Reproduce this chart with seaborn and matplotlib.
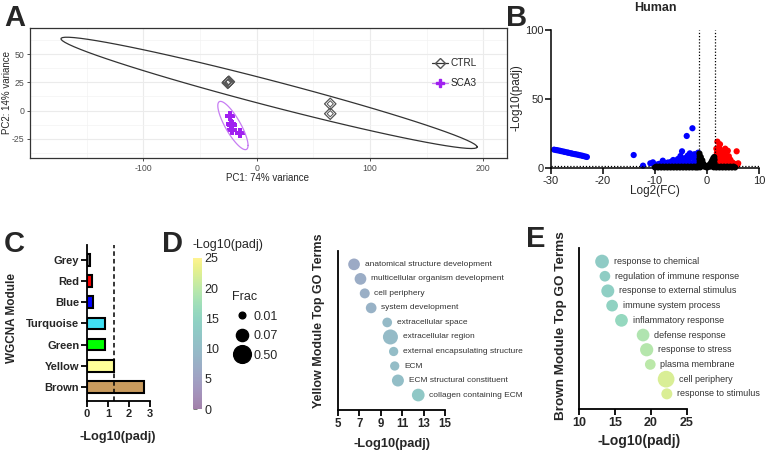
import numpy as np
import pandas as pd
import matplotlib
matplotlib.use('Agg')
import matplotlib.pyplot as plt
import seaborn as sns
from matplotlib.lines import Line2D
from matplotlib.colors import ListedColormap, Normalize
from matplotlib.cm import ScalarMappable

# ---------------- data ----------------
# A: PCA scores (several samples sit on top of each other)
ctrl_pc1 = [-25.5, -24.5, -25.0, 65.0, 65.0]
ctrl_pc2 = [24.5, 25.5, 25.0, 5.9, -2.8]
sca3_pc1 = [-23.9, -22.4, -22.0, -21.5, -14.7]
sca3_pc2 = [-5.0, -11.8, -12.4, -17.1, -20.0]

# B: volcano, (log2FC, -log10 padj)
down_genes = [(-29.4, 13.3), (-29.0, 13.0), (-28.7, 12.8), (-28.3, 12.5), (-28.0, 12.2),
              (-27.6, 11.9), (-27.3, 11.6), (-26.9, 11.3), (-26.6, 11.0), (-26.2, 10.7),
              (-25.9, 10.4), (-25.5, 10.1), (-25.2, 9.9), (-24.8, 9.6), (-24.5, 9.3),
              (-24.1, 9.0), (-23.8, 8.7), (-23.4, 8.3), (-23.1, 8.0),
              (-14.1, 9.4), (-12.3, 1.7), (-10.9, 3.4), (-10.4, 4.1), (-10.0, 2.0),
              (-9.6, 2.5), (-9.2, 3.0), (-8.8, 2.2), (-8.5, 5.3), (-8.2, 3.5),
              (-7.8, 2.8), (-7.5, 4.0), (-7.2, 2.5), (-6.9, 4.5), (-6.5, 5.8),
              (-6.2, 3.5), (-5.9, 5.0), (-5.6, 6.5), (-5.3, 4.2), (-5.1, 8.7),
              (-4.8, 12.1), (-4.6, 6.8), (-4.3, 5.5), (-4.0, 7.5), (-3.9, 23.2),
              (-3.7, 9.0), (-3.5, 6.0), (-3.3, 10.6), (-3.1, 7.8), (-2.8, 28.8),
              (-2.9, 9.5), (-2.6, 8.0), (-2.4, 10.0), (-2.2, 6.5), (-2.0, 9.0),
              (-1.8, 10.2), (-1.7, 11.1), (-1.6, 7.5), (-2.5, 4.0), (-3.0, 3.0),
              (-4.0, 3.2), (-5.0, 2.5), (-6.0, 2.0), (-7.0, 1.8), (-2.0, 3.5),
              (-1.7, 4.8), (-3.6, 4.5), (-4.6, 3.8), (-2.3, 2.5), (-1.9, 2.0)]
up_genes = [(2.0, 19.1), (2.5, 17.2), (5.7, 12.1), (6.0, 3.4), (1.6, 2.0), (1.7, 4.0),
            (1.7, 6.5), (1.8, 8.5), (1.9, 11.0), (2.0, 5.0), (2.1, 13.0), (2.2, 7.5),
            (2.3, 3.0), (2.4, 10.0), (2.6, 12.5), (2.7, 5.5), (2.8, 8.0), (2.9, 2.5),
            (3.0, 11.5), (3.1, 6.5), (3.2, 9.5), (3.3, 13.0), (3.4, 4.0), (3.6, 7.5),
            (3.7, 10.5), (3.8, 2.5), (4.0, 5.5), (4.2, 8.5), (4.3, 3.0), (4.5, 6.0),
            (4.7, 2.2), (4.9, 4.0), (5.1, 1.8), (5.3, 3.0), (5.5, 2.2), (4.0, 12.5),
            (3.5, 14.0), (2.3, 15.0), (1.8, 14.0), (5.8, 2.0)]
ns_genes = [(-10.0, 0.4), (-9.4, 0.4), (-8.8, 0.4), (-8.2, 0.4), (-7.6, 0.4), (-7.0, 0.4),
            (-6.4, 0.4), (-5.8, 0.4), (-5.2, 0.4), (-4.6, 0.4), (-4.0, 0.4), (-3.4, 0.4),
            (-2.8, 0.4), (-2.2, 0.4), (-1.8, 0.4), (1.8, 0.4), (2.4, 0.4), (3.0, 0.4),
            (3.6, 0.4), (4.2, 0.4), (4.8, 0.4), (5.4, 0.4),
            (-9.7, 1.0), (-9.1, 1.0), (-8.5, 1.0), (-7.9, 1.0), (-7.3, 1.0), (-6.7, 1.0),
            (-6.1, 1.0), (-5.5, 1.0), (-4.9, 1.0), (-4.3, 1.0), (-3.7, 1.0), (-3.1, 1.0),
            (-2.5, 1.0), (-2.0, 1.0), (2.1, 1.0), (2.7, 1.0), (3.3, 1.0), (3.9, 1.0),
            (4.5, 1.0), (5.1, 1.0),
            (-1.45, 10.5), (-1.4, 8.5), (-1.45, 6.5), (-1.4, 4.5), (-1.45, 2.5), (-1.2, 8.0),
            (-1.1, 6.0), (-1.2, 3.5), (-1.0, 1.5), (-0.9, 5.5), (-0.8, 3.5), (-0.6, 2.5),
            (-0.5, 1.0), (-0.3, 1.5), (-0.1, 0.5), (0.1, 0.5), (0.3, 1.5), (0.5, 2.5),
            (0.6, 1.0), (0.8, 4.0), (0.9, 2.0), (1.0, 5.5), (1.1, 3.0), (1.2, 7.0),
            (1.3, 5.0), (1.4, 8.0), (1.45, 6.0), (1.45, 3.5), (1.35, 1.5), (-1.3, 0.5),
            (1.3, 0.5)]

# C: WGCNA module enrichment
modules = ['Grey', 'Red', 'Blue', 'Turquoise', 'Green', 'Yellow', 'Brown']
module_scores = [0.12, 0.22, 0.27, 0.86, 0.86, 1.30, 2.70]
module_colors = ['#808080', '#FF0000', '#0000FF', '#40E0F4', '#00FF00', '#FFFF99', '#C99B5E']

# D: yellow module GO terms
yellow_terms = ['anatomical structure development', 'multicellular organism development',
                'cell periphery', 'system development', 'extracellular space',
                'extracellular region', 'external encapsulating structure', 'ECM',
                'ECM structural constituent', 'collagen containing ECM']
yellow_padj = [6.5, 7.1, 7.5, 8.1, 9.6, 9.9, 10.2, 10.3, 10.6, 12.5]
yellow_frac = [0.059, 0.059, 0.032, 0.041, 0.029, 0.19, 0.025, 0.025, 0.065, 0.084]

# E: brown module GO terms
brown_terms = ['response to chemical', 'regulation of immune response',
               'response to external stimulus', 'immune system process',
               'inflammatory response', 'defense response', 'response to stress',
               'plasma membrane', 'cell periphery', 'response to stimulus']
brown_padj = [13.2, 13.6, 14.0, 14.6, 15.9, 18.9, 19.4, 19.9, 22.1, 22.2]
brown_frac = [0.12, 0.041, 0.093, 0.059, 0.084, 0.084, 0.10, 0.041, 0.35, 0.046]

frac_legend = [0.01, 0.07, 0.50]

# ---------------- style ----------------
sns.set_theme(style='white')
plt.rcParams['font.family'] = ['Liberation Sans', 'DejaVu Sans']
plt.rcParams['axes.unicode_minus'] = False

W, H = 767, 455
fig = plt.figure(figsize=(W / 100, H / 100), dpi=100)


def rect(l, t, r, b):
    return [l / W, 1 - b / H, (r - l) / W, (b - t) / H]


F95_2_4 = 6.944  # qf(0.95, 2, 4), five samples per group


def norm_ellipse(x, y, seg=80):
    # same idea as ggplot2 stat_ellipse(type = "norm")
    X = np.column_stack([x, y]).astype(float)
    center = X.mean(axis=0)
    L = np.linalg.cholesky(np.cov(X.T))
    ang = np.linspace(0, 2 * np.pi, seg)
    circ = np.column_stack([np.cos(ang), np.sin(ang)])
    e = center + np.sqrt(2 * F95_2_4) * circ @ L.T
    return e[:, 0], e[:, 1]


# ---------------- A: PCA ----------------
axA = fig.add_axes(rect(30, 28, 507, 158))
ctrl = pd.DataFrame({'PC1': ctrl_pc1, 'PC2': ctrl_pc2})
sca3 = pd.DataFrame({'PC1': sca3_pc1, 'PC2': sca3_pc2})
ex, ey = norm_ellipse(ctrl_pc1, ctrl_pc2)
axA.plot(ex, ey, color='#333333', lw=0.9)
ex, ey = norm_ellipse(sca3_pc1, sca3_pc2)
axA.plot(ex, ey, color='#C77DF3', lw=0.9)
sns.scatterplot(data=ctrl, x='PC1', y='PC2', marker='D', s=34, facecolor='none',
                edgecolor='#555555', linewidth=0.9, ax=axA)
sns.scatterplot(data=ctrl, x='PC1', y='PC2', marker='D', s=10, facecolor='none',
                edgecolor='#555555', linewidth=0.7, ax=axA)
sns.scatterplot(data=sca3, x='PC1', y='PC2', marker='P', s=42, color='#A020F0',
                linewidth=0, ax=axA)
axA.set_xlim(-200, 221)
axA.set_ylim(-42, 73)
axA.set_xticks([-100, 0, 100, 200])
axA.set_yticks([-25, 0, 25, 50])
axA.set_xticks([-150, -50, 50, 150], minor=True)
axA.set_yticks([-37.5, -12.5, 12.5, 37.5, 62.5], minor=True)
axA.grid(True, which='major', color='#EBEBEB', lw=0.8)
axA.grid(True, which='minor', color='#F3F3F3', lw=0.5)
axA.set_axisbelow(True)
for sp in axA.spines.values():
    sp.set_color('#333333')
    sp.set_linewidth(0.9)
axA.tick_params(which='major', length=2.5, width=0.6, color='#333333', labelsize=6.3,
                labelcolor='#4D4D4D', pad=1.5, bottom=True, left=True)
axA.tick_params(which='minor', length=0)
axA.set_xlabel('PC1: 74% variance', fontsize=7)
axA.set_ylabel('PC2: 14% variance', fontsize=7)
axA.xaxis.set_label_coords(0.497, -0.115)
axA.yaxis.set_label_coords(-0.038, 0.5)
handles = [Line2D([], [], color='#333333', lw=0.9, marker='D', ms=5, mfc='none', mec='#555555'),
           Line2D([], [], color='#C77DF3', lw=0.9, marker='P', ms=6, mfc='#A020F0', mec='#A020F0')]
axA.legend(handles, ['CTRL', 'SCA3'], loc='upper left', bbox_to_anchor=(0.832, 0.805),
           frameon=False, fontsize=7.2, handlelength=1.6, labelspacing=1.0,
           handletextpad=0.3, borderpad=0)

# ---------------- B: volcano ----------------
axB = fig.add_axes(rect(551, 30, 759, 168))
volc = pd.concat([
    pd.DataFrame(down_genes, columns=['fc', 'nlp']).assign(group='down'),
    pd.DataFrame(up_genes, columns=['fc', 'nlp']).assign(group='up'),
    pd.DataFrame(ns_genes, columns=['fc', 'nlp']).assign(group='ns')], ignore_index=True)
sns.scatterplot(data=volc, x='fc', y='nlp', hue='group',
                palette={'down': '#0000FF', 'up': '#FF0000', 'ns': 'black'},
                s=20, linewidth=0, legend=False, ax=axB, clip_on=False)
axB.axvline(-1.5, color='black', ls=(0, (1, 1.5)), lw=0.9)
axB.axvline(1.5, color='black', ls=(0, (1, 1.5)), lw=0.9)
axB.axhline(1.3, color='black', ls=(0, (1, 1.5)), lw=0.9)
axB.set_xlim(-30, 10)
axB.set_ylim(0, 100)
axB.set_xticks([-30, -20, -10, 0, 10])
axB.set_yticks([0, 50, 100])
sns.despine(ax=axB)
for sp in ['left', 'bottom']:
    axB.spines[sp].set_linewidth(1.1)
    axB.spines[sp].set_color('black')
axB.tick_params(length=4, width=1.1, color='black', labelsize=8, pad=1.5,
                bottom=True, left=True)
axB.set_xlabel('Log2(FC)', fontsize=8.5)
axB.set_ylabel('-Log10(padj)', fontsize=8.5)
axB.xaxis.set_label_coords(0.5, -0.123)
axB.yaxis.set_label_coords(-0.135, 0.51)
fig.text(655 / W, 1 - 8 / H, 'Human', ha='center', va='center', fontsize=9, fontweight='bold')

# ---------------- C: module bars ----------------
axC = fig.add_axes(rect(87, 245, 150, 401))
dfc = pd.DataFrame({'module': modules, 'score': module_scores})
sns.barplot(data=dfc, x='score', y='module', hue='module', palette=module_colors,
            legend=False, orient='h', width=0.55, saturation=1, edgecolor='black',
            linewidth=1.5, ax=axC)
axC.axvline(1.3, color='black', ls=(0, (3, 2)), lw=1.1)
axC.set_xlim(0, 3)
axC.set_ylim(6.66, -0.7)
axC.set_xticks([0, 1, 2, 3])
sns.despine(ax=axC)
for sp in ['left', 'bottom']:
    axC.spines[sp].set_linewidth(1.3)
    axC.spines[sp].set_color('black')
axC.tick_params(length=4, width=1.3, color='black', labelsize=8, pad=1.5,
                bottom=True, left=True)
for lab in axC.get_xticklabels() + axC.get_yticklabels():
    lab.set_fontweight('bold')
axC.set_xlabel('-Log10(padj)', fontsize=9.2, fontweight='bold')
axC.set_ylabel('WGCNA Module', fontsize=8.5, fontweight='bold')
axC.xaxis.set_label_coords(0.49, -0.19)
axC.yaxis.set_label_coords(-1.095, 0.53)

# ---------------- colour scale + size legend ----------------
base = plt.get_cmap('viridis')(np.linspace(0, 1, 256))
faded = base.copy()
faded[:, :3] = base[:, :3] * 0.5 + 0.5
fcmap = ListedColormap(faded)
norm = Normalize(0, 25)

cax = fig.add_axes(rect(193, 258, 202, 409))
cb = fig.colorbar(ScalarMappable(norm=norm, cmap=fcmap), cax=cax, ticks=[0, 5, 10, 15, 20, 25])
cb.outline.set_visible(False)
cax.tick_params(axis='y', which='major', right=False, left=True, direction='in',
                length=3, width=0.6, color='#666666', labelsize=9, pad=2,
                labelright=True, labelleft=False)
fig.text(192 / W, 1 - 245 / H, '-Log10(padj)', ha='left', va='center', fontsize=9)


def bubble_area(f):
    d_px = 6.7 + 6.5 * (np.log10(f) + 2)
    return (0.72 * d_px) ** 2


leg_handles = [Line2D([], [], ls='', marker='o', color='black', ms=np.sqrt(bubble_area(f)))
               for f in frac_legend]
fig.legend(leg_handles, ['%.2f' % f for f in frac_legend], title='Frac',
           loc='upper left', bbox_to_anchor=(226 / W, 1 - 285 / H), frameon=False,
           fontsize=9, title_fontsize=9, alignment='left', labelspacing=0.6,
           handletextpad=0.2, borderpad=0, handlelength=1.5)


# ---------------- D / E: GO bubbles ----------------
def go_panel(ax, terms, padj, frac, xlim, xticks, ylabel, fs_term, fs_lab):
    df = pd.DataFrame({'term': terms, 'padj': padj, 'frac': frac, 'pos': range(len(terms))})
    sizes = {f: bubble_area(f) for f in df['frac'].unique()}
    sns.scatterplot(data=df, x='padj', y='pos', size='frac', sizes=sizes,
                    c=fcmap(norm(df['padj'])), linewidth=0, legend=False, ax=ax)
    for _, r in df.iterrows():
        rad = np.sqrt(bubble_area(r['frac'])) / 2
        ax.annotate(r['term'], (r['padj'], r['pos']), xytext=(rad + 3.4, 0),
                    textcoords='offset points', ha='left', va='center',
                    fontsize=fs_term, color='#333333')
    ax.set_xlim(*xlim)
    ax.set_xticks(xticks)
    ax.set_yticks([])
    ax.set_ylim(10.03, -0.92)
    sns.despine(ax=ax)
    for sp in ['left', 'bottom']:
        ax.spines[sp].set_linewidth(1.3)
        ax.spines[sp].set_color('black')
    ax.tick_params(axis='x', length=4, width=1.3, color='black', labelsize=fs_lab - 1,
                   pad=1.5, bottom=True)
    for lab in ax.get_xticklabels():
        lab.set_fontweight('bold')
    ax.set_xlabel('-Log10(padj)', fontsize=fs_lab, fontweight='bold')
    ax.set_ylabel(ylabel, fontsize=fs_lab - 0.3, fontweight='bold')


axD = fig.add_axes(rect(338, 251, 445, 410))
go_panel(axD, yellow_terms, yellow_padj, yellow_frac, (5, 15), [5, 7, 9, 11, 13, 15],
         'Yellow Module Top GO Terms', 6, 9.3)
axD.xaxis.set_label_coords(0.5, -0.176)
axD.yaxis.set_label_coords(-0.12, 0.56)

axE = fig.add_axes(rect(579, 248, 687, 409))
go_panel(axE, brown_terms, brown_padj, brown_frac, (10, 25), [10, 15, 20, 25],
         'Brown Module Top GO Terms', 6.5, 10)
axE.xaxis.set_label_coords(0.56, -0.155)
axE.yaxis.set_label_coords(-0.11, 0.52)

# ---------------- panel letters ----------------
for lab, x, y in [('A', 4, 4), ('B', 506, 4), ('C', 4, 230), ('D', 162, 230), ('E', 526, 225)]:
    fig.text(x / W, 1 - y / H, lab, ha='left', va='top', fontsize=21, fontweight='bold')

fig.savefig('out.png', dpi=100)
